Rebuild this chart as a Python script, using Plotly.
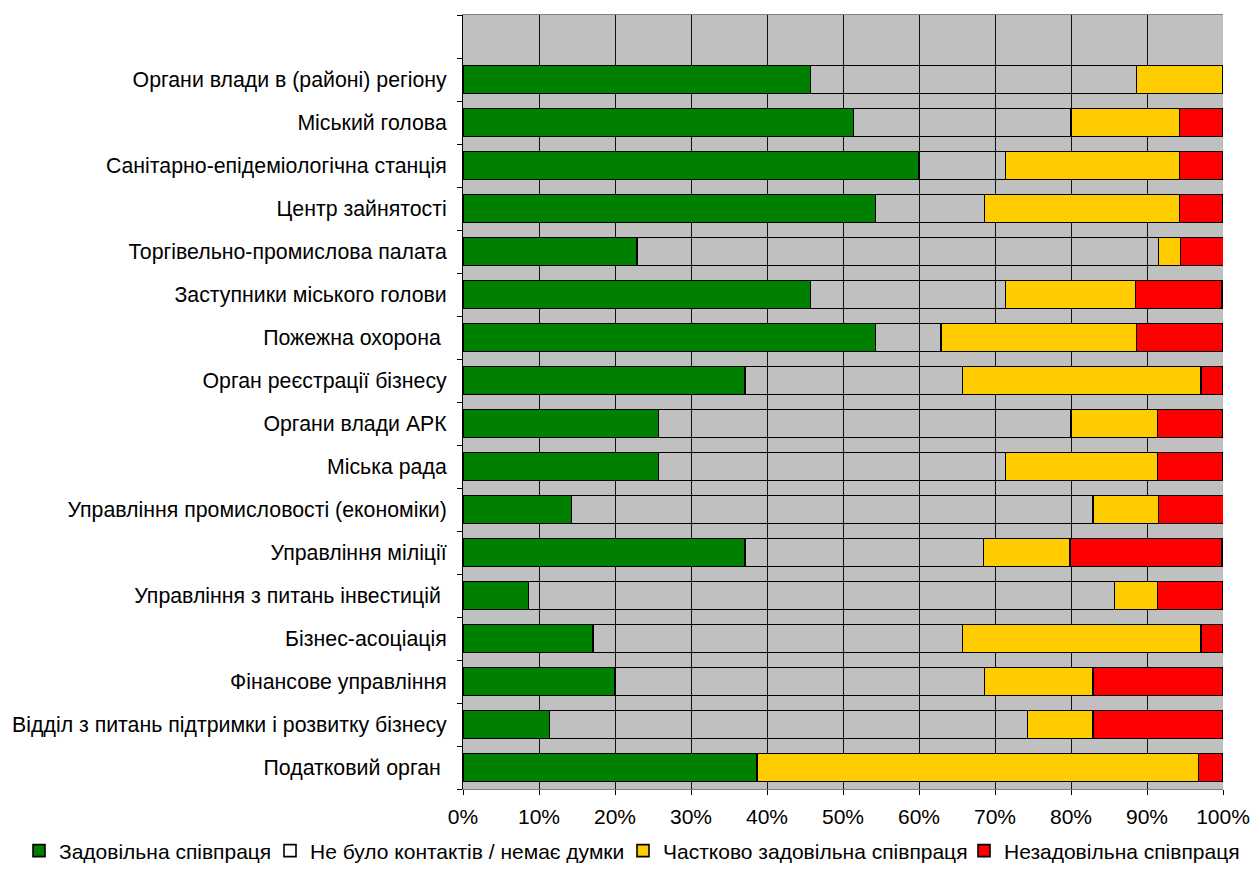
import plotly.graph_objects as go

categories = [
    "Органи влади в (районі) регіону",
    "Міський голова",
    "Санітарно-епідеміологічна станція",
    "Центр зайнятості",
    "Торгівельно-промислова палата",
    "Заступники міського голови",
    "Пожежна охорона ",
    "Орган реєстрації бізнесу",
    "Органи влади АРК",
    "Міська рада",
    "Управління промисловості (економіки)",
    "Управління міліції",
    "Управління з питань інвестицій ",
    "Бізнес-асоціація",
    "Фінансове управління",
    "Відділ з питань підтримки і розвитку бізнесу",
    "Податковий орган ",
]

satisfied = [45.7, 51.4, 60.0, 54.3, 22.9, 45.7, 54.3, 37.1, 25.7, 25.7, 14.3, 37.1, 8.6, 17.1, 20.0, 11.4, 38.7]
no_contact = [42.9, 28.6, 11.4, 14.3, 68.6, 25.7, 8.6, 28.6, 54.3, 45.7, 68.6, 31.4, 77.1, 48.6, 48.6, 62.9, 0.0]
partial = [11.4, 14.3, 22.9, 25.7, 2.9, 17.1, 25.7, 31.4, 11.4, 20.0, 8.6, 11.4, 5.7, 31.4, 14.3, 8.6, 58.1]
unsatisfied = [0.0, 5.7, 5.7, 5.7, 5.7, 11.4, 11.4, 2.9, 8.6, 8.6, 8.6, 20.0, 8.6, 2.9, 17.1, 17.1, 3.2]

series_names = [
    "Задовільна співпраця",
    "Не було контактів / немає думки",
    "Частково задовільна співпраця",
    "Незадовільна співпраця",
]
series_values = [satisfied, no_contact, partial, unsatisfied]
series_colors = ["#008000", "rgba(0,0,0,0)", "#FFCC00", "#FF0000"]
legend_ids = ["legend", "legend2", "legend3", "legend4"]
legend_left_x = [19, 270, 623, 964]  # pixel left edges of the legend boxes

x_ticks = list(range(0, 101, 10))
x_labels = [f"{v}%" for v in x_ticks]

n = len(categories)
ypos = [n - 1 - i for i in range(n)]  # first category at top

fig = go.Figure()
for name, vals, col, lid in zip(series_names, series_values, series_colors, legend_ids):
    fig.add_trace(go.Bar(
        y=ypos, x=vals, name=name, orientation="h", legend=lid,
        marker=dict(color=col, line=dict(color="black", width=1.6)),
    ))

L, R, T, B = 463, 29, 15, 98
W, H = 1252, 887
pw = W - L - R
ph = H - T - B

legend_layout = {}
for lid, lx in zip(legend_ids, legend_left_x):
    legend_layout[lid] = dict(
        orientation="h", xref="container", x=lx / W, xanchor="left",
        y=-(851 - (H - B)) / ph, yanchor="middle",
        font=dict(family="Liberation Sans, Arial", size=21),
        itemwidth=30, bgcolor="rgba(0,0,0,0)",
    )

fig.update_layout(
    barmode="stack",
    bargap=0.34,
    width=W, height=H,
    showlegend=True,
    margin=dict(l=L, r=R, t=T, b=B, autoexpand=False),
    plot_bgcolor="#C0C0C0",
    paper_bgcolor="white",
    font=dict(family="Liberation Sans, Arial, sans-serif", size=21.3, color="black"),
    xaxis=dict(
        range=[0, 100], tickmode="array", tickvals=x_ticks, ticktext=x_labels,
        tickfont=dict(size=21),
        showgrid=True, gridcolor="#111111", gridwidth=1,
        ticks="outside", ticklen=5, tickcolor="black",
        showline=True, linecolor="#808080", linewidth=1, mirror=True,
        zeroline=False, fixedrange=True, automargin=False,
        ticklabelstandoff=4,
    ),
    yaxis=dict(
        range=[-0.5, n + 0.5],
        tickmode="array", tickvals=ypos, ticktext=categories,
        ticks="", showgrid=False, zeroline=False,
        showline=True, linecolor="black", linewidth=1,
        minor=dict(tickvals=[i - 0.5 for i in range(n + 2)], ticks="outside",
                   ticklen=5, tickcolor="black", showgrid=False),
        ticklabelstandoff=11, automargin=False, fixedrange=True,
    ),
    **legend_layout,
)

fig.write_html("out.html", config={"displayModeBar": False},
               post_script="document.body.style.margin='0px';")
